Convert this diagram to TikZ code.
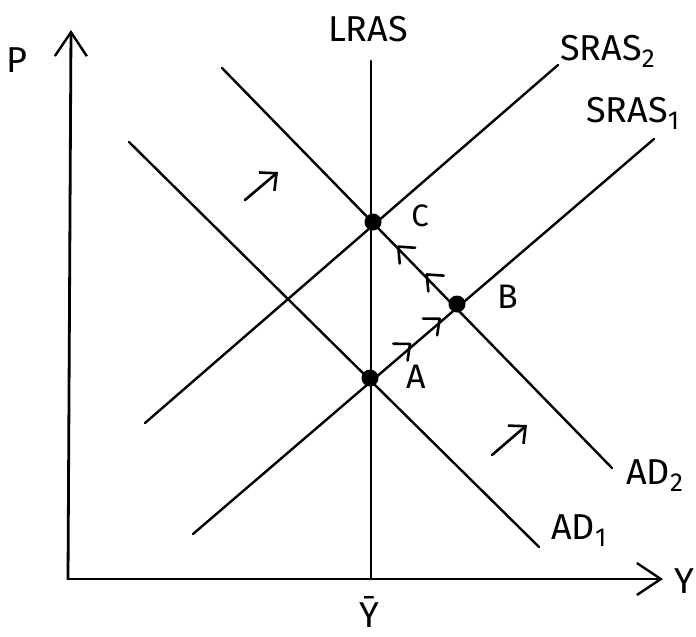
\documentclass[tikz,border=0pt]{standalone}
\usepackage{fontspec}
\setmainfont{Fira Sans}
\usetikzlibrary{arrows.meta,calc}
\tikzset{
  curve/.style={line width=2.4pt, line cap=round},
  axis/.style={line width=2.8pt, line cap=round, -{Straight Barb[length=24pt,width=32pt,line width=2.4pt]}},
  lbl/.style={font=\fontsize{36}{36}\selectfont, inner sep=0pt},
  small/.style={font=\fontsize{34}{34}\selectfont, inner sep=0pt},
  smaller/.style={font=\fontsize{31}{31}\selectfont, inner sep=0pt},
  eqdot/.style={circle, fill=black, inner sep=0pt, minimum size=17pt},
  move/.style={line width=2.6pt, line cap=round, -{Straight Barb[length=13pt,width=24pt,line width=2.6pt]}},
  chev/.style={line width=2.6pt, line cap=round, line join=round}
}
\newcommand{\sub}[1]{\raisebox{-7pt}{\fontsize{26}{26}\selectfont #1}}
% chevron on segment #1--#2 with tip at fraction #3
\newcommand{\chevmark}[3]{%
  \draw[chev] ($($(#1)!#3-0.11!(#2)$)!11pt!90:($(#1)!#3!(#2)$)$)
     -- ($(#1)!#3!(#2)$)
     -- ($($(#1)!#3-0.11!(#2)$)!11pt!-90:($(#1)!#3!(#2)$)$);}
\begin{document}
\begin{tikzpicture}[x=1pt,y=-1pt]
\useasboundingbox (0,0) rectangle (696,637);
% axes
\coordinate (O) at (68,579);
\coordinate (ytop) at (71,30);
\coordinate (xend) at (663,579);
\draw[axis] (O) -- (ytop);
\draw[axis] (O) -- (xend);
\node[lbl] (P) at (17,60) {P};
\node[lbl] (Ylab) at (684,581) {Y};
\node[lbl, anchor=base] (Ybar) at (369,627) {Ȳ};
% curve end points
\coordinate (lras1) at (371,61);
\coordinate (lras0) at (371,579);
\coordinate (ad1a) at (129,142);
\coordinate (ad1b) at (539,547);
\coordinate (ad2a) at (222,68);
\coordinate (ad2b) at (612,468);
\coordinate (sr1a) at (193,534);
\coordinate (sr1b) at (654,139);
\coordinate (sr2a) at (145,423);
\coordinate (sr2b) at (558,65);
\draw[curve] (lras1) -- (lras0);
\draw[curve] (ad1a) -- (ad1b);
\draw[curve] (ad2a) -- (ad2b);
\draw[curve] (sr1a) -- (sr1b);
\draw[curve] (sr2a) -- (sr2b);
% labels
\node[lbl] (LRAS) at (368,29) {LRAS};
\node[lbl, anchor=west] (SRAS2) at (560,51) {SRAS\sub{2}};
\node[lbl, anchor=west] (SRAS1) at (586,113) {SRAS\sub{1}};
\node[lbl, anchor=west] (AD2) at (626,476) {AD\sub{2}};
\node[lbl, anchor=west] (AD1) at (551,531) {AD\sub{1}};
% equilibrium points
\node[eqdot] (A) at (370,378) {};
\node[eqdot] (B) at (457,304) {};
\node[eqdot] (C) at (373,222) {};
\node[small] (Alab) at (416,377) {A};
\node[small] (Blab) at (508,297) {B};
\node[smaller] (Clab) at (420,216) {C};
% adjustment path arrows
\chevmark{A.center}{B.center}{0.46}
\chevmark{A.center}{B.center}{0.80}
\chevmark{B.center}{C.center}{0.36}
\chevmark{B.center}{C.center}{0.70}
% shift arrows
\coordinate (m1a) at (245,200);
\coordinate (m1b) at (278,172);
\coordinate (m2a) at (492,455);
\coordinate (m2b) at (527,425);
\draw[move] (m1a) -- (m1b);
\draw[move] (m2a) -- (m2b);
\end{tikzpicture}
\end{document}
